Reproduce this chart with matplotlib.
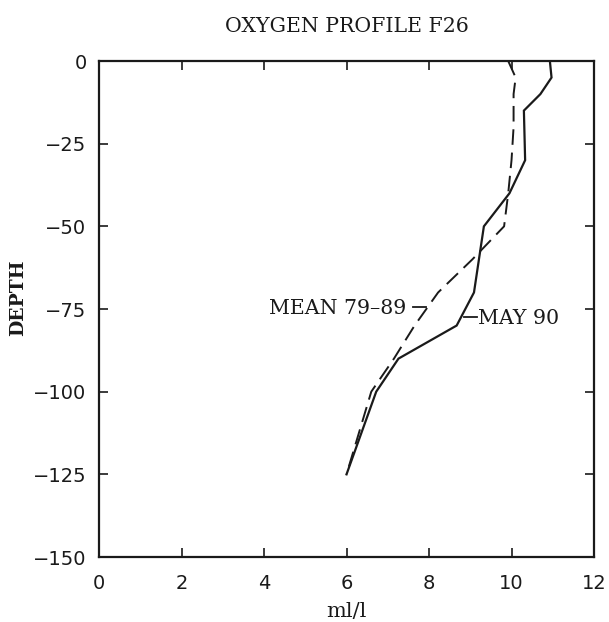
import matplotlib
matplotlib.use("Agg")
import matplotlib.pyplot as plt

# depths (m) and oxygen (ml/l)
may90_depth = [0, -5, -10, -15, -20, -30, -40, -50, -60, -70, -80, -90, -100, -125]
may90_oxy = [10.93, 10.97, 10.70, 10.30, 10.31, 10.33, 9.95, 9.33, 9.21, 9.09, 8.67, 7.26, 6.72, 6.00]

mean_depth = [0, -5, -10, -20, -30, -40, -50, -60, -70, -80, -90, -100, -125]
mean_oxy = [9.92, 10.10, 10.05, 10.05, 10.00, 9.92, 9.82, 9.05, 8.22, 7.65, 7.15, 6.60, 6.00]

x_ticks = [0, 2, 4, 6, 8, 10, 12]
y_ticks = [0, -25, -50, -75, -100, -125, -150]

title = "OXYGEN PROFILE F26"
x_label = "ml/l"
y_label = "DEPTH"
mean_label = "MEAN 79\u201389"
may_label = "MAY 90"

ink = "#1a1a1a"
serif = "DejaVu Serif"

fig = plt.figure(figsize=(6.09, 6.22), dpi=100)
ax = fig.add_axes([0.1626, 0.1045, 0.8128, 0.7974])

ax.plot(may90_oxy, may90_depth, color=ink, lw=1.6, solid_joinstyle="miter")
ax.plot(mean_oxy, mean_depth, color=ink, lw=1.4, dashes=(8, 4))

ax.set_xlim(0, 12)
ax.set_ylim(-150, 0)
ax.set_xticks(x_ticks)
ax.set_yticks(y_ticks)
ax.tick_params(direction="in", top=True, right=True, length=6.5, width=1.2,
               colors=ink, labelsize=14)
ax.tick_params(axis="x", pad=12)
ax.tick_params(axis="y", pad=9)
for s in ax.spines.values():
    s.set_linewidth(1.6)
    s.set_color(ink)

ax.set_title(title, family=serif, fontsize=14.8, color=ink, pad=21)
ax.set_xlabel(x_label, family=serif, fontsize=15, color=ink)
ax.xaxis.set_label_coords(0.5, -0.09)
ax.set_ylabel(y_label, family=serif, fontsize=13.5, fontweight="bold", color=ink)
ax.yaxis.set_label_coords(-0.145, 0.522)

# curve labels with short leaders
ax.plot([7.60, 7.92], [-74.3, -74.3], color=ink, lw=1.3)
ax.text(4.12, -76.4, mean_label, family=serif, fontsize=14.8, color=ink,
        ha="left", va="baseline")
ax.plot([8.84, 9.16], [-77.3, -77.3], color=ink, lw=1.3)
ax.text(9.19, -79.4, may_label, family=serif, fontsize=14.8, color=ink,
        ha="left", va="baseline")

fig.savefig("out.png", dpi=100)
